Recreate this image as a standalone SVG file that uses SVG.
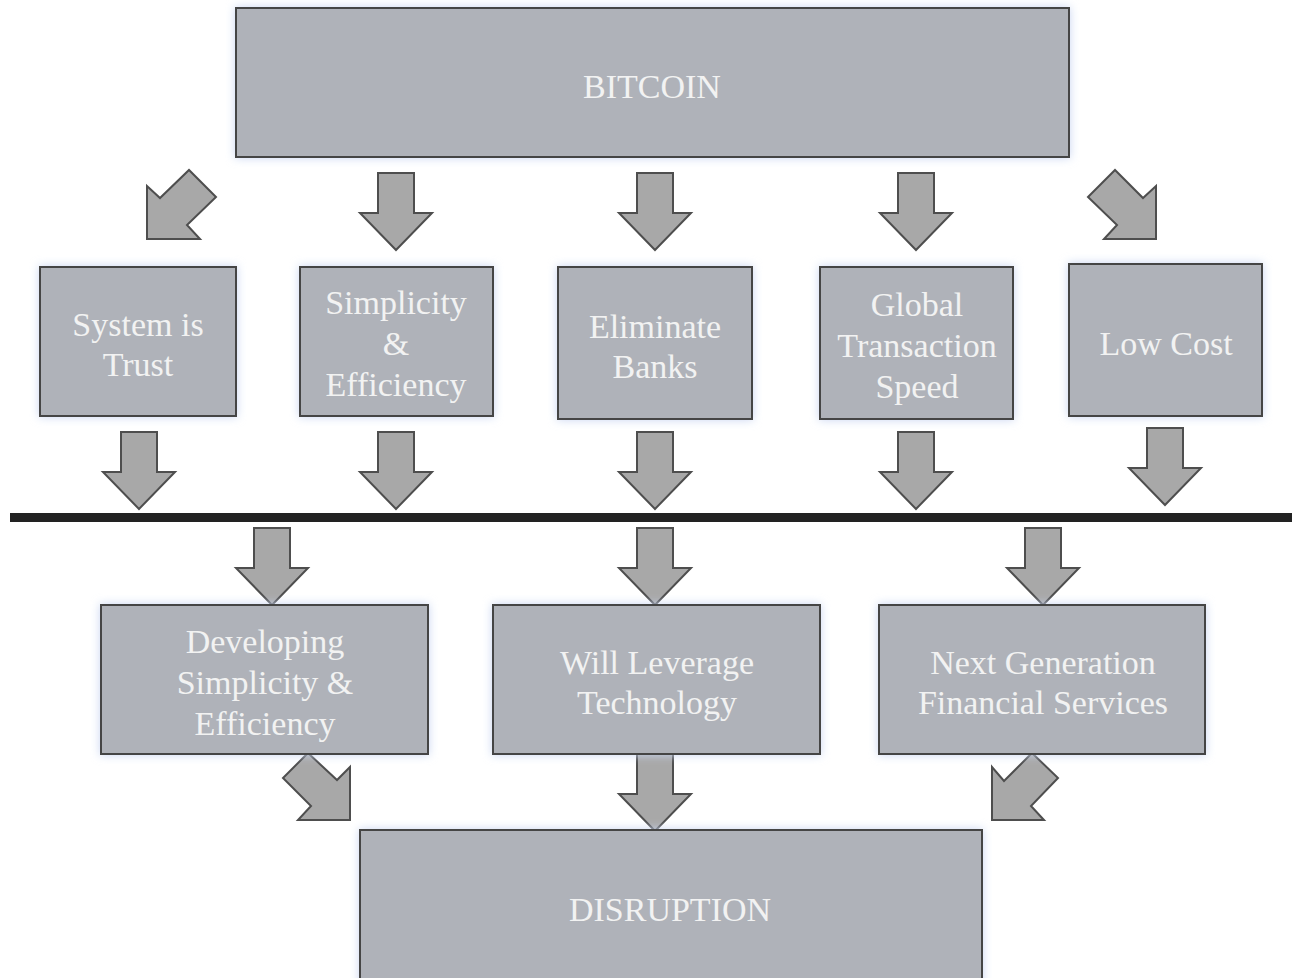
<svg xmlns="http://www.w3.org/2000/svg" width="1294" height="978" viewBox="0 0 1294 978">
<style>
.box{fill:#afb2b9;stroke:#454545;stroke-width:2;filter:url(#glow)}
.t{font-family:"Liberation Serif","Times New Roman",serif;font-size:34px;fill:#f2f2f2;text-anchor:middle}
.arr{fill:#a8a8a8;stroke:#4e4e4e;stroke-width:2;stroke-linejoin:miter}
</style>
<defs>
<filter id="glow" x="-10%" y="-10%" width="120%" height="120%">
<feFlood flood-color="#c9d5f2" result="f"/>
<feComposite in="f" in2="SourceAlpha" operator="in" result="c"/>
<feGaussianBlur in="c" stdDeviation="5" result="b"/>
<feMerge><feMergeNode in="b"/><feMergeNode in="SourceGraphic"/></feMerge>
</filter>
<path id="down" d="M-18,0 H18 V40 H36 L0,77 L-36,40 H-18 Z"/>
</defs>
<rect width="1294" height="978" fill="#ffffff"/>

<g id="connectors">
<polygon class="arr" points="147,239 147,186 160,198 189,170 216,197 187,225 200,239"/>
<polygon class="arr" points="1156,239 1156,186 1143,198 1115,170 1088,197 1117,225 1104,239"/>
<use href="#down" class="arr" x="396" y="173"/>
<use href="#down" class="arr" x="655" y="173"/>
<use href="#down" class="arr" x="916" y="173"/>
<use href="#down" class="arr" x="139" y="432"/>
<use href="#down" class="arr" x="396" y="432"/>
<use href="#down" class="arr" x="655" y="432"/>
<use href="#down" class="arr" x="916" y="432"/>
<use href="#down" class="arr" x="1165" y="428"/>
<rect x="10" y="513" width="1282" height="9" fill="#222222"/>
<use href="#down" class="arr" x="272" y="528"/>
<use href="#down" class="arr" x="655" y="528"/>
<use href="#down" class="arr" x="1043" y="528"/>
<polygon class="arr" points="350,820 350,767 337,780 308,753 283,778 311,806 298,820"/>
<use href="#down" class="arr" x="655" y="754"/>
<polygon class="arr" points="992,820 992,767 1004,781 1032,753 1058,778 1031,806 1044,820"/>
</g>

<g id="bitcoin"><rect class="box" x="236" y="8" width="833" height="149"/><text class="t" x="652" y="98">BITCOIN</text></g>

<g id="trust"><rect class="box" x="40" y="267" width="196" height="149"/>
<text class="t" x="138" y="336">System is</text><text class="t" x="138" y="376">Trust</text></g>

<g id="simplicity"><rect class="box" x="300" y="267" width="193" height="149"/>
<text class="t" x="396" y="314">Simplicity</text><text class="t" x="396" y="355">&amp;</text><text class="t" x="396" y="396">Efficiency</text></g>

<g id="banks"><rect class="box" x="558" y="267" width="194" height="152"/>
<text class="t" x="655" y="338">Eliminate</text><text class="t" x="655" y="378">Banks</text></g>

<g id="speed"><rect class="box" x="820" y="267" width="193" height="152"/>
<text class="t" x="917" y="316">Global</text><text class="t" x="917" y="357">Transaction</text><text class="t" x="917" y="398">Speed</text></g>

<g id="lowcost"><rect class="box" x="1069" y="264" width="193" height="152"/>
<text class="t" x="1166" y="355">Low Cost</text></g>

<g id="developing"><rect class="box" x="101" y="605" width="327" height="149"/>
<text class="t" x="265" y="653">Developing</text><text class="t" x="265" y="694">Simplicity &amp;</text><text class="t" x="265" y="735">Efficiency</text></g>

<g id="leverage"><rect class="box" x="493" y="605" width="327" height="149"/>
<text class="t" x="657" y="674">Will Leverage</text><text class="t" x="657" y="714">Technology</text></g>

<g id="nextgen"><rect class="box" x="879" y="605" width="326" height="149"/>
<text class="t" x="1043" y="674">Next Generation</text><text class="t" x="1043" y="714">Financial Services</text></g>

<g id="disruption"><rect class="box" x="360" y="830" width="622" height="160"/>
<text class="t" x="670" y="921">DISRUPTION</text></g>
</svg>
